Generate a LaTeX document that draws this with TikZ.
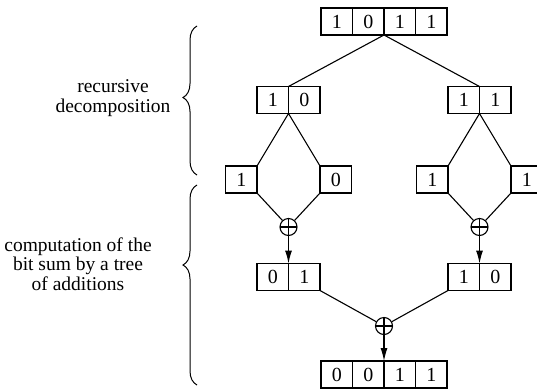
\documentclass[tikz,border=0pt]{standalone}
\usepackage{fontspec}
\setmainfont[Ligatures=TeX]{Liberation Serif}
\usetikzlibrary{arrows.meta,positioning,decorations.pathreplacing}
\tikzset{
  bit/.style={draw, line width=1.1pt, minimum width=31.5pt, minimum height=27pt,
              inner sep=0pt, outer sep=0pt, font=\rmfamily\fontsize{20}{20}\selectfont},
  adder/.style={circle, draw, line width=1.1pt, minimum size=17pt, inner sep=0pt,
              path picture={\draw[line width=1.1pt]
                (path picture bounding box.north) -- (path picture bounding box.south)
                (path picture bounding box.west) -- (path picture bounding box.east);}},
  link/.style={line width=1.1pt},
  flow/.style={-{Latex[length=13pt,width=7pt]}, line width=1.1pt},
  note/.style={align=center, font=\rmfamily\fontsize{19.5}{19.5}\selectfont},
  brc/.style={decorate, decoration={brace, amplitude=14pt, aspect=#1}, line width=1pt},
}
\begin{document}
\begin{tikzpicture}[x=1pt, y=-1pt, node distance=0pt]
  \useasboundingbox (0,0) rectangle (537,391);
  % input word
  \node[bit] (t1) at (336.75,21.5) {1};
  \node[bit, right=of t1] (t2) {0};
  \node[bit, right=of t2] (t3) {1};
  \node[bit, right=of t3] (t4) {1};
  % halves
  \node[bit] (l1) at (272.75,100) {1};
  \node[bit, right=of l1] (l2) {0};
  \node[bit] (r1) at (463.75,100) {1};
  \node[bit, right=of r1] (r2) {1};
  % single bits
  \node[bit] (ll) at (241.25,179.5) {1};
  \node[bit] (lr) at (335.75,179.5) {0};
  \node[bit] (rl) at (432.25,179.5) {1};
  \node[bit] (rr) at (526.75,179.5) {1};
  % additions
  \node[adder] (pl) at (288.5,227) {};
  \node[adder] (pr) at (479.5,227) {};
  \node[bit] (sl1) at (272.75,277) {0};
  \node[bit, right=of sl1] (sl2) {1};
  \node[bit] (sr1) at (463.75,277) {1};
  \node[bit, right=of sr1] (sr2) {0};
  \node[adder] (pb) at (384,326) {};
  \node[bit] (b1) at (336.75,374.5) {0};
  \node[bit, right=of b1] (b2) {0};
  \node[bit, right=of b2] (b3) {1};
  \node[bit, right=of b3] (b4) {1};
  % decomposition
  \draw[link] (l1.north east) -- (t2.south east) -- (r1.north east);
  \draw[link] (ll.north east) -- (l1.south east) -- (lr.north west);
  \draw[link] (rl.north east) -- (r1.south east) -- (rr.north west);
  % tree of additions
  \draw[link] (ll.south east) -- (pl);
  \draw[link] (lr.south west) -- (pl);
  \draw[link] (rl.south east) -- (pr);
  \draw[link] (rr.south west) -- (pr);
  \draw[flow] (pl) -- (sl1.north east);
  \draw[flow] (pr) -- (sr1.north east);
  \draw[link] (sl2.south east) -- (pb);
  \draw[link] (sr1.south west) -- (pb);
  \draw[flow] (pb) -- (b2.north east);
  % braces and labels
  \coordinate (ua) at (197,175);
  \coordinate (ub) at (197,26);
  \coordinate (la) at (197,385);
  \coordinate (lb) at (197,185);
  \draw[brc=0.52] (ua) -- (ub);
  \draw[brc=0.6] (la) -- (lb);
  \node[note] (rec) at (113,98) {recursive\\decomposition};
  \node[note] (comp) at (78,264) {computation of the\\bit sum by a tree\\of additions};
\end{tikzpicture}
\end{document}
